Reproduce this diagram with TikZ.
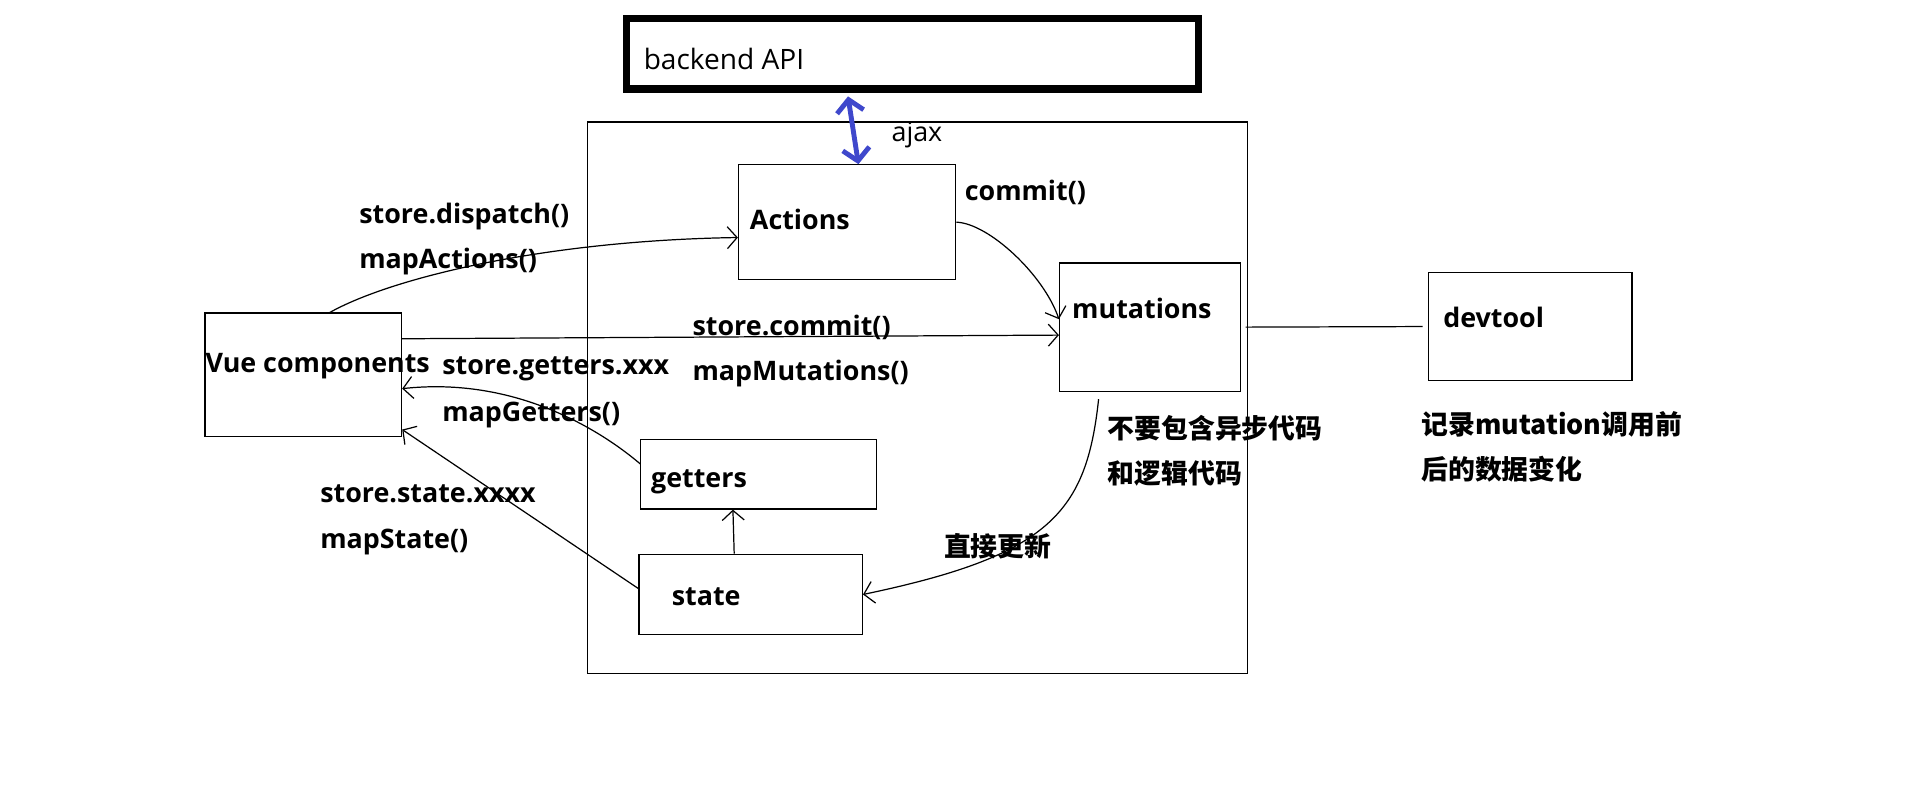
\documentclass[tikz,border=0pt]{standalone}
\usepackage{fontspec}
\setmainfont{Open Sans}
\newfontfamily\cjk{Noto Sans CJK SC}
\usetikzlibrary{arrows.meta}

\begin{document}
\begin{tikzpicture}[x=0.5pt, y=-0.5pt,
  box/.style 2 args={draw, line width=0.5pt, inner sep=0pt,
    minimum width=#1*0.5pt, minimum height=#2*0.5pt},
  lbl/.style={anchor=base west, inner sep=0pt, font=\bfseries\fontsize{11}{13}\selectfont},
  arr/.style={line width=0.5pt, -{Straight Barb[length=4pt, width=9pt]}},
  ajax/.style={line width=2pt, draw={rgb,255:red,63;green,72;blue,204},
    {Straight Barb[length=5pt, width=11pt]}-{Straight Barb[length=5pt, width=11pt]}}]


% GLOBAL SETTINGS
\fill[white] (0,0) rectangle (1568,665);
\useasboundingbox (0,0) rectangle (1568,665);

% BOXES
\node[box={469}{58}, line width=3pt] (backend) at (747.5,44) {};
\node[box={541}{452}] (store) at (751.5,326) {};
\node[box={178}{94}] (actions) at (694,182) {};
\node[box={148}{105}] (mutations) at (942,268) {};
\node[box={167}{89}] (devtool) at (1253.5,267.5) {};
\node[box={161}{101}] (vue) at (248.5,307) {};
\node[box={193}{57}] (getters) at (621.5,388.5) {};
\node[box={183}{66}] (state) at (615,487) {};

% LABELS
\node[lbl, font=\fontsize{11.5}{13}\selectfont] (backendT) at (527,57) {backend API};
\node[lbl, font=\fontsize{11}{13}\selectfont] (ajaxT) at (730,116) {ajax};
\foreach \n/\x/\y/\t in {actionsT/614/188/Actions, mutationsT/878/261/mutations,
    devtoolT/1182/268/devtool, vueT/168/305/Vue components, gettersT/533/399/getters,
    stateT/550/496/state, commitT/790/164/commit(),
    dispatchT/294/183/store.dispatch(), mapActionsT/294/220/mapActions(),
    scommitT/567/275/store.commit(), mapMutationsT/567/312/mapMutations(),
    sgettersT/362/307/store.getters.xxx, mapGettersT/362/345/mapGetters(),
    sstateT/262/412/store.state.xxxx, mapStateT/262/449/mapState()} {
  \node[lbl] (\n) at (\x,\y) {\t};
}
\foreach \n/\x/\y/\t in {noAsyncT/907/359/不要包含异步代码, noLogicT/907/396/和逻辑代码,
    recordT/1164/356/记录mutation调用前, changeT/1164/393/后的数据变化,
    updateT/773/456/直接更新} {
  \node[lbl, font=\cjk\bfseries\fontsize{11}{13}\selectfont] (\n) at (\x,\y) {\t};
}

% EDGES
\coordinate (mutOut) at (900,327);
\draw[ajax, shorten <=1.5pt] (backend.211) -- (actions.79);
\draw[arr] (vue.67) .. controls (320,228) and (445,197) .. (actions.188);
\draw[arr] (vue.20) -- (mutations.185);
\draw[arr] (actions.east) .. controls (810,183) and (855,225) .. (mutations.175);
\draw[arr] (mutOut) .. controls (890,420) and (860,455) .. (state.east);
\draw[arr] (getters.175) .. controls (495,355) and (425,308) .. (vue.352);
\draw[arr] (state.177) -- (vue.331);
\draw[arr] (state.112) -- (getters.234);
\draw[line width=0.5pt, shorten <=2pt, shorten >=2pt] (mutations.east) -- (devtool.west);

\end{tikzpicture}
\end{document}
